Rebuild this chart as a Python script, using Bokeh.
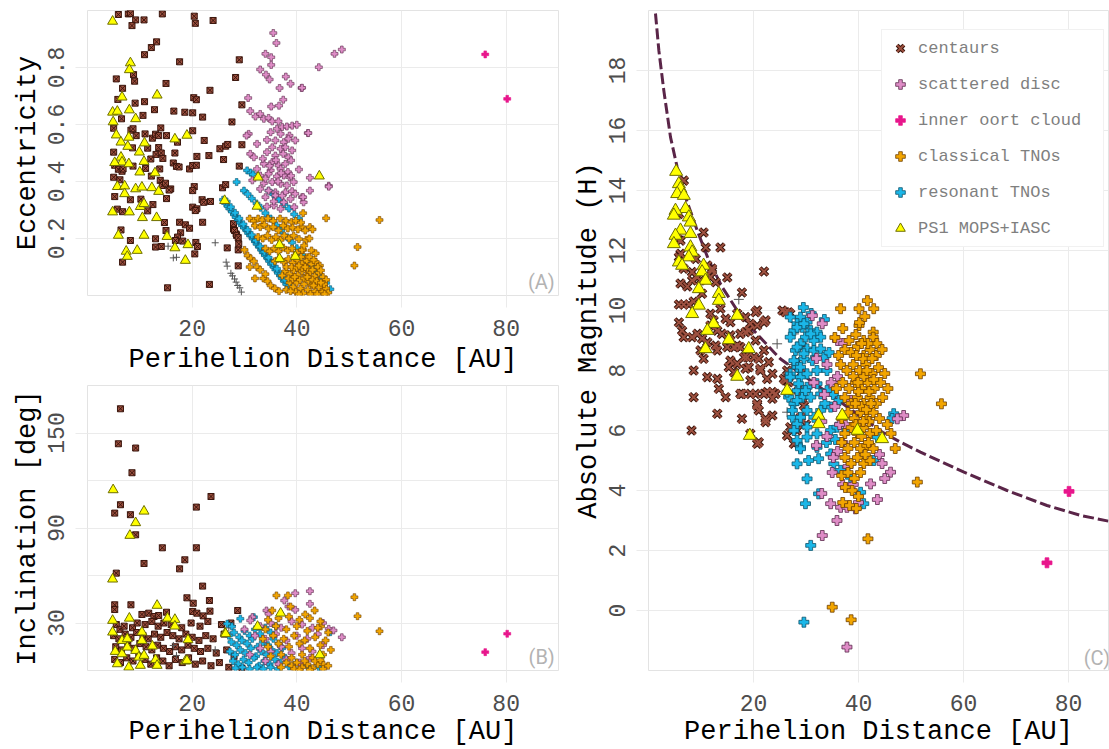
from bokeh.plotting import figure
from bokeh.layouts import row, column
from bokeh.models import Range1d, FixedTicker, Label, Legend, LegendItem
from bokeh.embed import file_html
from bokeh.resources import INLINE

FONT = "Liberation Mono"
GRID = "#EBEBEB"

# ---------------- data: panel A (perihelion q [AU], eccentricity e) ----------------
cen_a = [(5.9,0.986),(7.8,0.988),(8.2,0.99),(9.2,0.967),(8.5,0.947),(10.8,0.967),(14.3,0.988),(20.4,0.98),(20.6,0.955),(24.0,0.965),
(13.2,0.89),(12.2,0.87),(10.9,0.845),(17.6,0.82),(29.0,0.827),(28.3,0.765),(5.5,0.76),(9.0,0.752),(8.8,0.775),(15.0,0.744),
(6.7,0.727),(23.4,0.72),(5.8,0.688),(10.9,0.68),(9.1,0.675),(20.3,0.694),(20.8,0.687),(29.5,0.669),(12.8,0.652),(16.5,0.647),
(18.6,0.643),(20.1,0.641),(22.0,0.626),(6.5,0.62),(10.6,0.632),(27.6,0.609),(5.0,0.587),(8.3,0.58),(8.7,0.585),(14.0,0.588),
(20.1,0.578),(9.3,0.561),(11.0,0.567),(12.4,0.552),(13.0,0.566),(13.6,0.561),(15.1,0.561),(17.2,0.538),(22.3,0.544),(25.3,0.515),
(26.4,0.524),(26.8,0.53),(29.5,0.529),(5.0,0.503),(8.6,0.518),(11.5,0.517),(13.6,0.519),(12.1,0.479),(13.1,0.495),(14.1,0.5),
(16.7,0.5),(14.4,0.481),(20.9,0.488),(23.2,0.491),(26.0,0.477),(5.2,0.457),(5.9,0.443),(6.6,0.436),(6.8,0.444),(8.7,0.454),
(11.1,0.446),(16.4,0.465),(17.0,0.453),(17.5,0.451),(13.8,0.444),(19.5,0.444),(20.1,0.456),(20.8,0.457),(29.0,0.454),(5.0,0.415),
(6.2,0.406),(12.2,0.419),(13.9,0.404),(14.3,0.386),(14.9,0.394),(15.9,0.374),(15.6,0.37),(20.4,0.382),(20.1,0.368),(25.8,0.378),
(26.4,0.389),(5.2,0.347),(8.2,0.336),(10.2,0.338),(15.1,0.34),(12.5,0.319),(21.9,0.336),(22.2,0.327),(23.5,0.33),(20.1,0.31),
(20.9,0.304),(20.6,0.298),(5.7,0.303),(6.7,0.294),(11.5,0.297),(14.7,0.256),(22.0,0.257),(17.6,0.257),(18.7,0.248),(19.5,0.236),
(27.9,0.233),(28.4,0.216),(6.4,0.23),(15.0,0.228),(17.8,0.22),(17.2,0.205),(16.8,0.193),(18.2,0.191),(20.7,0.186),(21.0,0.172),
(8.2,0.193),(13.0,0.199),(13.0,0.17),(14.1,0.172),(26.7,0.167),(28.8,0.16),(28.9,0.181),(20.5,0.146),(6.7,0.117),(28.8,0.104),
(15.3,0.027),(23.3,0.039),(27.9,0.252),(28.1,0.228),(28.5,0.211),(28.8,0.203)]

oth_a = [(24.4,0.185),(15.4,0.173),(16.4,0.132),(17.0,0.134),(26.5,0.117),(26.7,0.103),(27.4,0.078),(27.7,0.069),(28.1,0.058),
(28.4,0.047),(28.7,0.035),(29.1,0.027),(29.4,0.012)]

sd_a = [(35.5,0.921),(36.1,0.886),(34.0,0.848),(35.1,0.836),(35.1,0.809),(33.0,0.793),(34.1,0.775),(34.8,0.758),(37.9,0.768),(38.8,0.743),
(40.9,0.728),(36.7,0.728),(30.7,0.693),(37.4,0.687),(31.1,0.647),(35.1,0.663),(36.6,0.666),(32.1,0.628),(33.0,0.637),(33.7,0.62),
(34.6,0.623),(35.3,0.611),(36.5,0.611),(36.2,0.585),(37.2,0.591),(38.1,0.593),(39.1,0.596),(40.0,0.599),(35.0,0.573),(36.9,0.567),
(38.6,0.561),(30.8,0.567),(30.4,0.561),(42.1,0.57),(34.3,0.546),(35.9,0.544),(37.5,0.538),(38.4,0.55),(39.7,0.544),(32.4,0.532),
(35.3,0.52),(36.9,0.515),(37.8,0.52),(31.1,0.497),(31.8,0.485),(34.3,0.503),(35.9,0.491),(37.4,0.497),(38.4,0.485),(39.1,0.509),
(33.7,0.462),(35.3,0.468),(36.5,0.456),(37.8,0.462),(38.9,0.474),(32.4,0.444),(35.0,0.439),(36.9,0.444),(38.3,0.433),(40.4,0.442),
(33.0,0.421),(34.6,0.427),(36.2,0.418),(37.5,0.421),(38.6,0.415),(42.5,0.413),(31.5,0.404),(33.7,0.394),(35.3,0.398),(36.9,0.392),
(38.1,0.386),(39.4,0.398),(33.0,0.374),(34.6,0.368),(35.9,0.362),(37.8,0.362),(39.1,0.366),(39.7,0.357),(42.5,0.368),(46.1,0.385),
(34.0,0.345),(35.9,0.351),(37.5,0.327),(38.8,0.339),(41.0,0.345),(41.3,0.327),(34.3,0.312),(35.6,0.316),(36.9,0.304),
(47.2,0.848),(48.6,0.863),(44.2,0.801),(41.0,0.729),(42.2,0.57),(46.1,0.382),(41.2,0.345),
(33.5,0.48),(34.8,0.455),(36.0,0.475),(37.0,0.43),(34.0,0.41),(36.4,0.40),(38.9,0.42),(35.6,0.33),(37.2,0.35),(39.5,0.31)]

ioc_a = [(76.0,0.846),(80.2,0.69)]

res_a = [(25.9,0.336),(26.3,0.324),(26.8,0.313),(27.1,0.305),(27.6,0.294),(28.0,0.284),(28.3,0.275),(28.8,0.266),(29.2,0.255),(29.5,0.246),
(29.9,0.238),(30.4,0.228),(30.7,0.219),(31.1,0.21),(31.6,0.199),(32.0,0.19),(32.3,0.181),(32.8,0.17),(33.2,0.16),(33.5,0.151),
(33.9,0.141),(34.4,0.13),(34.7,0.121),(35.1,0.11),(35.6,0.1),(35.9,0.091),(36.4,0.079),(36.8,0.07),(37.1,0.061),(37.6,0.05),
(38.0,0.04),(38.4,0.028),(26.6,0.33),(27.4,0.31),(28.2,0.29),(29.0,0.27),(29.8,0.25),(30.6,0.23),(31.4,0.212),(32.2,0.193),
(33.0,0.172),(33.8,0.153),(34.6,0.133),(35.4,0.114),(36.2,0.094),(37.0,0.075),(37.8,0.055),(38.6,0.036),
(28.5,0.398),(29.9,0.368),(30.6,0.356),(31.4,0.34),(32.3,0.323),(33.1,0.308),(34.0,0.289),(35.0,0.27),(36.1,0.246),(37.0,0.228),
(38.2,0.204),(39.1,0.186),(40.0,0.166),(41.0,0.142),(42.0,0.121),(43.0,0.1),(43.9,0.081),(44.8,0.062),(45.6,0.044),(46.4,0.022),
(30.5,0.439),(31.2,0.431),(31.6,0.425),(34.6,0.368),(35.5,0.355),(36.6,0.338),(37.6,0.321),(38.5,0.305),(39.5,0.285),(40.4,0.269)]

cl_a = [(41.2,0.289),(45.6,0.271),(55.8,0.265),(41.0,0.24),(42.5,0.24),(41.6,0.228),(41.8,0.195),(51.6,0.17),(51.0,0.105),
(41.2,0.16),(41.9,0.134),(43.5,0.058),(44.2,0.041),(44.8,0.02),
(31.0,0.27),(31.8,0.262),(32.6,0.27),(33.4,0.265),(34.5,0.27),(35.5,0.262),(36.8,0.27),(37.9,0.262),(39.0,0.258),(39.8,0.262),(40.8,0.256),
(32.0,0.245),(33.0,0.24),(33.8,0.248),(34.6,0.235),(35.5,0.24),(36.5,0.228),(37.4,0.245),(38.3,0.235),(39.2,0.238),(40.2,0.232),(43.0,0.232),
(32.6,0.205),(33.5,0.2),(34.4,0.21),(35.2,0.195),(36.0,0.205),(36.9,0.195),(37.6,0.21),(38.5,0.2),(39.4,0.21),(40.4,0.198),(42.4,0.2),
(34.0,0.165),(34.8,0.155),(35.7,0.165),(36.5,0.155),(37.4,0.168),(38.3,0.158),(39.1,0.165),(40.0,0.15),(41.0,0.16),(42.8,0.158),(43.6,0.148),
(35.8,0.12),(36.6,0.13),(37.5,0.118),(38.4,0.128),(39.2,0.115),(40.1,0.125),(41.0,0.112),(41.9,0.122),(42.8,0.11),(43.6,0.118),(44.4,0.105),
(37.8,0.085),(38.6,0.075),(39.4,0.088),(40.2,0.072),(41.0,0.085),(41.8,0.07),(42.6,0.082),(43.4,0.068),(44.2,0.08),(45.0,0.065),(45.6,0.055),
(38.6,0.045),(39.3,0.03),(40.0,0.045),(40.7,0.025),(41.4,0.04),(42.1,0.02),(42.8,0.038),(43.5,0.015),(44.2,0.03),(44.9,0.012),(45.6,0.025),
(46.0,0.01),(39.8,0.012),(41.2,0.008),(42.6,0.005),
(30.0,0.16),(30.6,0.14),(31.2,0.13),(31.8,0.12),(32.4,0.1),(33.0,0.09),(32.0,0.06),(33.6,0.06),(34.4,0.05),(35.0,0.035),(35.8,0.025),
(36.6,0.015),(34.0,0.075),(31.0,0.1),
(38.0,0.1),(39.0,0.1),(40.0,0.098),(41.0,0.096),(42.0,0.095),(43.0,0.09),(38.4,0.06),(39.2,0.058),(40.6,0.055),(41.4,0.06),(42.2,0.052),
(43.0,0.055),(43.8,0.05),(37.2,0.07),(38.0,0.02),(38.8,0.015),(39.6,0.065),(40.4,0.105),(41.6,0.1),(42.4,0.135),(43.2,0.125),(44.0,0.1),
(44.6,0.088),(45.2,0.04),(39.6,0.14),(40.8,0.135),(41.4,0.175),(42.0,0.065),(43.2,0.035),(44.6,0.045),(40.4,0.005),(43.9,0.005),(45.3,0.005)]

ps1_a = [(4.8,0.962),(8.2,0.816),(8.0,0.792),(6.6,0.696),(13.3,0.703),(4.8,0.643),(5.7,0.646),(8.0,0.651),(9.2,0.62),(4.9,0.609),
(5.5,0.563),(6.4,0.538),(7.9,0.555),(7.7,0.523),(10.9,0.535),(16.7,0.549),(19.0,0.562),(9.9,0.503),(6.4,0.485),(6.6,0.468),
(5.2,0.466),(7.9,0.462),(10.8,0.47),(10.0,0.433),(12.9,0.43),(5.7,0.382),(7.1,0.384),(7.1,0.357),(9.2,0.374),(10.4,0.38),
(12.3,0.378),(13.6,0.365),(4.8,0.293),(8.0,0.293),(10.1,0.312),(10.8,0.322),(10.5,0.273),(13.2,0.273),(5.9,0.211),(10.8,0.211),
(15.2,0.207),(7.4,0.155),(7.6,0.137),(9.5,0.158),(16.7,0.167),(19.2,0.178),(18.7,0.123),(26.2,0.333),(32.4,0.313),(32.6,0.415),
(44.3,0.419),(36.7,0.178),(36.7,0.129),(39.7,0.137)]

# ---------------- data: panel B (perihelion q [AU], inclination i [deg]) ----------------
cen_b = [(6.3,165.3),(5.9,143.2),(9.2,140.5),(8.5,124.9),(6.3,104.7),(5.2,99.4),(8.2,98.4),(9.2,85.7),(23.6,109.9),(20.8,103.2),
(14.3,77.5),(20.8,77.5),(18.6,69.9),(17.6,64.2),(10.8,67.6),(5.5,61.5),(22.0,53.3),(19.0,45.9),(20.2,42.5),(23.3,44.2),(5.2,41.5),
(5.2,38.5),(8.3,41.5),(20.1,37.3),(20.9,36.2),(22.1,34.5),(23.4,37.5),(28.7,37.9),(10.4,35.4),(11.7,36.2),(12.7,34.1),(13.6,34.7),(15.1,36.8),
(5.5,29),(6.2,26),(7.0,28),(8.6,27),(9.5,30),(11.0,29),(12.3,31),(13.5,28),(14.6,30),(16.0,29),(18.0,27),(19.8,30),(21.5,28),(23.0,31),(25.6,29),(27.4,30),
(5.0,22),(6.0,20),(7.2,23),(8.3,21),(9.4,24),(10.6,22),(11.6,20),(12.8,23),(14.0,21),(15.2,24),(16.3,22),(17.5,20),(18.8,23),(20.0,21),(21.3,19),(22.6,22),(24.0,20),(26.1,23),
(5.4,15),(6.5,13),(7.7,16),(8.9,14),(10.0,17),(11.2,15),(12.3,13),(13.4,16),(14.5,14),(15.7,12),(16.8,15),(18.0,13),(19.2,16),(20.4,14),(21.6,12),(23.0,14),(24.6,11),(26.6,13),(28.0,9),
(5.2,7),(6.3,5),(7.5,8),(8.7,6),(9.8,9),(11.0,7),(12.1,4),(13.2,8),(14.4,6),(15.6,3),(16.8,7),(18.1,5),(19.3,8),(20.6,4),(22.0,6),(23.6,3),(25.2,5),(27.0,2),(29.5,1.5)]

oth_b = [(27.7,28.4),(27.0,26.9),(24.4,13.1),(16.4,15.8),(17.0,9.5)]

sd_b = [(39.7,48.8),(42.5,50.1),(37.6,44.2),(38.4,40.4),(39.7,38.3),(42.5,42.1),(34.2,37.9),(34.6,35.8),(31.5,33.7),(31.1,31.6),(46.1,26.3),
(47.0,25.3),(48.6,21.0),(33.0,28),(35.0,30),(37.0,27),(39.0,31),(41.0,29),(43.0,27),(45.0,30),(32.0,22),(34.0,20),(36.0,23),(38.0,19),
(40.0,22),(42.0,20),(44.0,23),(33.0,14),(35.0,12),(37.0,15),(39.0,11),(41.0,14),(43.0,12),(45.0,16),(34.0,6),(36.5,4),(38.0,7),(40.5,5),
(42.5,8),(31.0,10),(30.0,26)]

ioc_b = [(80.2,23.2),(76.0,11.6)]

res_b = [(26.7,29.5),(27.6,27.8),(29.2,32.7),(31.8,33.7),(46.4,24.2),
(27.0,22),(28.0,24),(29.0,21),(30.0,25),(31.0,22),(32.0,26),(33.0,23),(34.0,27),(35.0,24),(36.0,28),
(27.5,18),(28.5,16),(29.5,19),(30.5,17),(31.5,20),(32.5,15),(33.5,18),(34.5,16),(35.5,20),(36.5,17),
(27.2,12),(28.2,10),(29.2,13),(30.2,11),(31.2,14),(32.2,9),(33.2,12),(34.2,10),(35.2,13),(36.2,11),(37.2,14),
(27.8,6),(28.8,4),(29.8,7),(30.8,5),(31.8,8),(32.8,3),(33.8,6),(34.8,4),(35.8,7),(36.8,5),(37.8,8),
(28.3,1.5),(29.6,2),(31.0,1),(32.4,2),(33.6,1),(35.0,2),(36.4,1),(38.5,2.5),(40.0,5),(42.0,3),(44.2,2)]

cl_b = [(36.1,47.4),(38.3,47.4),(38.8,40.4),(43.4,37.9),(41.6,35.4),(51.0,46.3),(51.6,34.3),(55.8,24.8),(35.3,37.9),(44.6,27.8),(45.1,3.8),
(34.5,32),(36.5,33),(38.5,34),(40.5,32),(42.5,33),(44.5,31),
(34.0,26),(36.0,28),(38.0,26),(40.0,28),(42.0,25),(44.0,27),(46.0,24),
(33.5,20),(35.5,22),(37.5,20),(39.5,22),(41.5,19),(43.5,21),(45.5,19),
(34.5,15),(36.5,17),(38.5,15),(40.5,17),(42.5,14),(44.5,16),(46.5,13),
(35.0,9),(37.0,10),(39.0,8),(41.0,10),(43.0,8),(45.0,10),
(38.0,5),(39.0,3),(40.0,5),(41.0,2),(42.0,4),(43.0,1.5),(44.0,4),(45.0,1),(46.0,3),(39.5,1),(41.5,6),(43.5,6),(37.0,2),(44.5,6.5),(40.5,0.5),(42.5,0.5)]

ps1_b = [(4.9,114.1),(10.8,100.6),(9.2,93.3),(8.1,85.3),(4.8,57.7),(13.3,41.1),(4.8,31.6),(8.0,33.0),(15.3,33.0),(16.7,32.2),(16.7,28.0),
(4.8,24.2),(6.6,18.9),(7.6,20.0),(10.4,24.2),(10.4,18.9),(12.4,15.4),(19.2,19.4),(26.3,23.6),(5.3,12.0),(6.6,10.5),(7.6,14.7),(9.2,12.6),
(9.8,8.4),(10.8,9.5),(5.7,4.2),(7.9,2.1),(10.1,3.2),(13.0,6.8),(13.3,3.2),(18.7,5.9),(19.0,6.3),(36.9,36.2),(32.5,27.8),(26.4,23.2),(44.4,9.9)]

# ---------------- data: panel C (perihelion q [AU], absolute magnitude H) ----------------
cen_c = [(6.73,14.33),(10.5,12.6),(13.7,12.1),(22.0,11.3),(10.9,12.1),(12.1,11.4),(15.0,11.1),(17.8,10.6),(6.1,10.9),(7.4,10.8),(8.3,11.0),
(5.8,10.2),(6.7,10.2),(7.7,10.2),(8.6,10.3),(5.8,9.6),(6.4,9.33),(6.7,9.11),(8.3,9.11),(9.9,8.67),(10.5,8.39),(8.6,8.0),(11.2,7.78),
(13.1,7.72),(13.4,7.39),(14.7,7.11),(8.6,7.11),(13.1,6.56),(8.2,6.0),(17.8,6.39),(20.4,7.22),(22.6,7.28),(20.7,6.83),(21.0,6.67),
(23.6,6.5),(22.3,6.28),(20.7,5.56),(17.8,7.22),(19.4,7.67),(18.5,8.06),(21.3,8.06),(18.8,8.44),(20.1,8.44),(21.0,8.39),(15.6,8.33),
(16.9,8.22),(15.3,8.11),(16.3,7.94),(13.1,8.67),(15.0,8.78),(16.3,8.78),(17.5,8.78),(11.2,8.94),(12.8,8.83),(9.3,9.22),(10.2,9.06),
(11.8,9.5),(13.1,9.33),(14.0,9.22),(15.6,9.17),(17.5,9.22),(19.1,9.33),(20.7,9.5),(22.0,9.61),(18.5,9.78),(20.4,9.94),(22.3,9.67),
(11.8,9.89),(13.7,10.06),(12.4,9.67),(14.7,9.72),(15.6,9.61),(6.7,11.39),(8.3,11.28),(9.3,11.11),(5.8,11.78),(6.1,11.89),(8.3,11.83),
(9.0,11.72),(5.5,12.39),(6.1,12.33),(5.8,13.22),(11.8,11.11),(12.8,10.94),(11.2,11.5),(12.1,11.33),(9.9,11.0),(10.2,10.56),(26.4,8.0),
(26.1,7.67),(26.7,7.61),(27.0,6.11),(26.4,5.83),(25.5,10.0),(26.7,9.94),(23.6,7.06),(24.2,7.22),(26.1,9.94),(27.0,9.89),(16.9,9.89),
(20.7,10.0),(19.4,9.56),(18.5,9.28),(20.4,9.0),(22.0,8.67),(22.9,8.28),(16.9,8.83),(18.2,8.44),(19.1,8.11),(21.3,8.0),(22.6,7.72),
(23.6,7.89),(25.8,7.72),(17.5,7.22),(19.4,7.22),(20.7,6.89),(22.0,7.22),(23.6,7.28),(22.3,6.39),(19.4,5.89),(21.0,5.61),(27.7,5.56),
(29.0,6.44),(28.3,6.0),(28.6,7.33),(29.3,7.11),(29.6,6.83),(28.3,8.3),(29.0,7.9),(29.2,8.8),(30.0,6.2)]

oth_c = [(17.2,10.37),(24.5,8.89),(27.7,9.22),(26.4,6.61),(27.2,8.2),(28.0,9.6)]

sd_c = [(31.2,9.83),(33.1,9.56),(46.1,4.61),(48.6,6.5),(47.4,6.39),(42.3,4.22),(35.9,3.0),(33.1,2.5),(37.8,-1.22),(34.7,3.56),(36.6,3.44),
(37.8,3.44),(39.4,3.39),(32.0,8.4),(34.0,8.2),(36.0,7.8),(33.5,7.2),(35.5,6.8),(37.5,6.2),(34.0,5.8),(36.0,5.3),(38.0,4.8),(35.0,4.6),
(37.0,4.2),(39.0,4.2),(40.0,3.6),(33.0,6.3),(32.0,5.5),(38.5,7.0),(44.0,5.2),(45.0,4.4),(43.6,3.7),(44.5,4.9),(33.0,3.9),(36.0,9.0),
(31.5,7.6),(37.2,8.9),(34.8,7.6),(36.4,6.2),(35.2,5.1),(37.0,5.6)]

ioc_c = [(80.1,3.97),(75.9,1.59)]

res_c = [(28.95,9.78),(28.3,9.56),(27.7,9.33),(29.3,9.44),(30.2,9.61),(30.9,9.33),(32.1,9.28),(32.8,9.11),(31.5,9.0),(29.9,9.11),
(28.95,8.89),(28.0,8.67),(30.2,8.72),(31.5,8.67),(32.8,8.72),(33.4,8.44),(31.2,8.33),(29.6,8.39),(28.3,8.11),(27.0,7.89),
(28.95,7.78),(30.2,7.89),(32.1,8.0),(34.0,8.0),(30.2,7.44),(32.1,7.56),(28.3,7.33),(26.7,7.11),(27.7,6.89),(29.3,7.11),
(30.9,7.11),(32.8,7.22),(34.0,7.33),(30.2,6.67),(31.5,6.44),(32.8,6.67),(34.7,6.78),(27.4,6.44),(28.3,6.22),(30.2,6.11),
(32.1,5.89),(34.7,6.0),(35.9,6.11),(37.8,6.0),(28.95,5.44),(30.2,5.78),(32.1,5.44),(34.7,5.22),(28.3,4.89),(30.5,5.0),
(32.4,5.06),(30.2,4.39),(32.4,3.89),(29.9,3.56),(30.9,2.17),(35.3,4.89),(36.6,4.67),(38.5,4.44),(41.0,3.56),(40.4,3.94),
(43.6,5.78),(46.7,6.56),(46.4,6.4),(42.9,5.0),(29.6,-0.39),
(27.0,9.78),(28.3,9.44),(29.6,9.56),(30.9,9.22),(27.0,9.11),(28.3,8.78),(29.6,8.56),(27.7,8.33),(28.95,8.11),(27.0,7.78),
(28.6,7.56),(29.9,7.33),(28.3,7.0),(27.4,6.67),(28.95,6.44),(27.7,6.0),(28.3,5.67),(28.95,5.39),(26.4,7.28),
(33.5,9.7),(31.0,9.9),(29.5,10.1),(33.6,6.9),(34.4,8.6),(35.2,7.2),(33.9,5.6),(35.6,5.7),(36.3,7.0)]

cl_c = [(36.6,10.06),(40.1,10.06),(41.7,10.33),(42.9,10.06),(40.1,9.5),(42.8,9.28),(42.8,9.11),(51.8,7.89),(51.2,4.28),(41.8,2.39),
(35.0,0.11),(38.6,-0.31),(55.8,6.89),(45.5,6.2),(46.2,5.9),(47.0,5.4),
(35.5,9.1),(37.0,9.4),(38.2,9.0),(39.5,9.2),(41.0,9.0),(43.5,8.9),
(36.2,8.5),(37.4,8.7),(38.6,8.6),(39.8,8.8),(41.0,8.5),(42.2,8.7),(43.4,8.5),(44.5,8.7),
(36.6,8.2),(37.8,8.0),(39.0,8.2),(40.2,8.0),(41.4,8.2),(42.6,7.9),(43.8,8.1),(45.0,7.9),
(35.8,7.4),(37.0,7.6),(38.2,7.4),(39.4,7.6),(40.6,7.4),(41.8,7.6),(43.0,7.4),(44.2,7.6),(45.6,7.4),
(37.4,7.1),(38.6,6.9),(39.8,7.1),(41.0,6.9),(42.2,7.1),(43.4,6.9),(44.6,7.1),
(36.8,6.4),(38.0,6.6),(39.2,6.4),(40.4,6.6),(41.6,6.4),(42.8,6.6),(44.0,6.4),
(37.4,5.9),(38.6,6.1),(39.8,5.9),(41.0,6.1),(42.2,5.9),(43.4,6.0),
(36.8,5.6),(38.0,5.4),(39.2,5.6),(40.4,5.4),(41.6,5.5),(42.8,5.4),
(37.4,5.1),(38.6,4.9),(39.8,5.1),(41.0,4.9),(42.2,5.0),
(36.8,4.5),(38.0,4.6),(39.2,4.4),(40.4,4.6),(37.5,4.1),(38.8,4.0),(40.0,3.8),(37.0,3.6),(38.3,3.5),(39.6,3.4),
(39.0,7.8),(40.0,7.3),(41.0,7.8),(42.0,7.3),(40.5,6.8),(41.5,6.7),(39.5,6.2),(42.0,6.3),(40.8,8.4),(41.8,8.9),(40.2,9.6),(41.2,9.8),
(40.6,5.8),(41.3,5.2),(39.6,8.5),(40.6,8.9),(41.6,8.0),(42.6,8.4),(39.4,6.9),(40.9,6.3),(42.4,6.9),(41.9,5.6),(39.9,7.6),(42.9,7.7)]

ps1_c = [(5.27,14.63),(5.78,14.22),(6.1,14.06),(5.46,13.89),(6.73,13.83),(7.05,13.39),(5.14,13.33),(4.83,13.17),(7.68,13.11),(8.0,12.94),
(6.1,12.67),(5.14,12.5),(4.83,12.22),(8.0,12.56),(8.0,12.11),(8.32,11.94),(7.68,11.78),(5.78,11.61),(6.4,11.5),(10.5,11.5),(10.2,11.28),
(10.86,11.0),(9.59,10.72),(13.4,10.56),(13.4,10.33),(9.59,10.17),(8.32,9.89),(16.9,9.83),(12.4,9.56),(11.2,9.33),(10.86,8.72),(15.3,9.02),
(19.1,8.72),(16.9,7.8),(26.4,7.33),(19.3,5.83),(32.4,6.5),(32.4,6.22),(36.9,6.5),(39.8,6.0),(44.5,5.72)]

# detection-limit curve (q, H)
lim_q = [1.33,1.97,2.92,4.19,5.46,7.05,9.27,11.49,14.03,16.9,20.06,23.9,25.1,44.5,48.0,51.8,60.1,68.3,75.9,82.3,87.6]
lim_h = [19.9,18.67,17.33,15.78,14.78,13.78,12.67,11.67,10.78,10.0,9.33,8.61,8.39,5.95,5.61,5.28,4.61,4.0,3.5,3.17,2.98]

x_ticks = [20, 40, 60, 80]
e_ticks = [0.2, 0.4, 0.6, 0.8]
i_ticks = [30, 90, 150]
i_minor = [60, 120]
h_ticks = [0, 2, 4, 6, 8, 10, 12, 14, 16, 18]

legend_labels = ["centaurs", "scattered disc", "inner oort cloud", "classical TNOs", "resonant TNOs", "PS1 MOPS+IASC"]

# ---------------- colours ----------------
C_CEN, C_CEN_D = "#9E5140", "#3A150C"
C_SD, C_SD_D = "#DE8CC6", "#5C2A4C"
C_IOC = "#E8168C"
C_CL, C_CL_D = "#F2A500", "#6E3F00"
C_RES, C_RES_D = "#1BB7E8", "#0E5369"
C_PS1, C_PS1_D = "#FFFF00", "#6E6E00"
C_OTH = "#555555"


def xs(d):
    return [t[0] for t in d]


def ys(d):
    return [t[1] for t in d]


def make_fig(w, h, xr, yr, left, right, top, bottom, title_standoff=6):
    p = figure(width=w, height=h, x_range=Range1d(*xr), y_range=Range1d(*yr),
               output_backend="svg", toolbar_location=None,
               min_border_left=left, min_border_right=right,
               min_border_top=top, min_border_bottom=bottom)
    p.outline_line_color = "#E3E3E3"
    p.outline_line_width = 1
    p.background_fill_color = "white"
    p.border_fill_color = "white"
    for ax in (p.xaxis[0], p.yaxis[0]):
        ax.axis_line_color = None
        ax.major_tick_line_color = GRID
        ax.major_tick_out = 12
        ax.major_tick_in = 0
        ax.minor_tick_line_color = None
        ax.major_label_text_font = FONT
        ax.major_label_text_font_size = "23px"
        ax.major_label_text_color = "#4D4D4D"
        ax.major_label_standoff = 12
        ax.axis_label_text_font = FONT
        ax.axis_label_text_font_size = "27px"
        ax.axis_label_text_font_style = "normal"
        ax.axis_label_text_color = "black"
    p.xaxis.axis_label_standoff = title_standoff
    p.yaxis.axis_label_standoff = 2
    p.yaxis.major_label_orientation = "parallel"
    p.xgrid.grid_line_color = GRID
    p.ygrid.grid_line_color = GRID
    p.xaxis.ticker = FixedTicker(ticks=x_ticks)
    p.xaxis.axis_label = "Perihelion Distance [AU]"
    return p


def small_panel(p, cen, oth, res, sd, cl, ioc, ps1):
    p.scatter(xs(cen), ys(cen), marker="square_x", size=6, fill_color=C_CEN, line_color=C_CEN_D, line_width=1)
    p.scatter(xs(oth), ys(oth), marker="cross", size=7, line_color=C_OTH, line_width=1)
    p.scatter(xs(res), ys(res), marker="plus", size=7, fill_color=C_RES, line_color=C_RES_D, line_width=0.6)
    p.scatter(xs(sd), ys(sd), marker="plus", size=7, fill_color=C_SD, line_color=C_SD_D, line_width=0.6)
    p.scatter(xs(cl), ys(cl), marker="plus", size=7, fill_color=C_CL, line_color=C_CL_D, line_width=0.6)
    p.scatter(xs(ioc), ys(ioc), marker="plus", size=7, fill_color=C_IOC, line_color=C_IOC, line_width=0.6)
    p.scatter(xs(ps1), ys(ps1), marker="triangle", size=10, fill_color=C_PS1, line_color=C_PS1_D, line_width=1)


# ---------------- panel A ----------------
pA = make_fig(560, 380, (0, 90), (0, 1), 87, 2, 10, 85)
pA.yaxis.ticker = FixedTicker(ticks=e_ticks)
pA.yaxis.axis_label = "Eccentricity"
small_panel(pA, cen_a, oth_a, res_a, sd_a, cl_a, ioc_a, ps1_a)
pA.add_layout(Label(x=89.3, y=0.004, text="(A)", text_align="right", text_baseline="bottom",
                    text_font="Roboto", text_font_size="20px", text_color="#B3B3B3"))

# ---------------- panel B ----------------
pB = make_fig(560, 369, (0, 90), (0, 180), 87, 2, 5, 79, title_standoff=3)
pB.yaxis.ticker = FixedTicker(ticks=i_ticks, minor_ticks=i_minor)
pB.ygrid.minor_grid_line_color = GRID
pB.yaxis.axis_label = "Inclination [deg]"
small_panel(pB, cen_b, oth_b, res_b, sd_b, cl_b, ioc_b, ps1_b)
pB.add_layout(Label(x=89.3, y=0.8, text="(B)", text_align="right", text_baseline="bottom",
                    text_font="Roboto", text_font_size="20px", text_color="#B3B3B3"))

# ---------------- panel C ----------------
pC = make_fig(549, 749, (0, 87.62), (-2, 20), 88, 1, 10, 79, title_standoff=3)
pC.yaxis.ticker = FixedTicker(ticks=h_ticks)
pC.yaxis.axis_label = "Absolute Magnitude (H)"
pC.line(lim_q, lim_h, line_color="#5A2548", line_width=3, line_dash="11 4")
rc1 = pC.scatter(xs(cen_c), ys(cen_c), marker="x", size=11, line_color=C_CEN_D, line_width=4)
rc2 = pC.scatter(xs(cen_c), ys(cen_c), marker="x", size=11, line_color=C_CEN, line_width=2)
ro = pC.scatter(xs(oth_c), ys(oth_c), marker="cross", size=10, line_color=C_OTH, line_width=1)
rr = pC.scatter(xs(res_c), ys(res_c), marker="plus", size=10, fill_color=C_RES, line_color=C_RES_D, line_width=0.8)
rs = pC.scatter(xs(sd_c), ys(sd_c), marker="plus", size=10, fill_color=C_SD, line_color=C_SD_D, line_width=0.8)
rcl = pC.scatter(xs(cl_c), ys(cl_c), marker="plus", size=10, fill_color=C_CL, line_color=C_CL_D, line_width=0.8)
ri = pC.scatter(xs(ioc_c), ys(ioc_c), marker="plus", size=10, fill_color=C_IOC, line_color=C_IOC, line_width=0.8)
rp = pC.scatter(xs(ps1_c), ys(ps1_c), marker="triangle", size=13, fill_color=C_PS1, line_color=C_PS1_D, line_width=1)
pC.add_layout(Label(x=82.9, y=-1.97, text="(C)", text_align="left", text_baseline="bottom",
                    text_font="Roboto", text_font_size="20px", text_color="#B3B3B3"))

legend = Legend(items=[LegendItem(label=legend_labels[0], renderers=[rc1, rc2]),
                       LegendItem(label=legend_labels[1], renderers=[rs]),
                       LegendItem(label=legend_labels[2], renderers=[ri]),
                       LegendItem(label=legend_labels[3], renderers=[rcl]),
                       LegendItem(label=legend_labels[4], renderers=[rr]),
                       LegendItem(label=legend_labels[5], renderers=[rp])],
                location=(233, 423))
legend.label_text_font = FONT
legend.label_text_font_size = "17px"
legend.label_text_color = "#7F7F7F"
legend.glyph_width = 24
legend.glyph_height = 24
legend.label_height = 24
legend.label_width = 179
legend.label_standoff = 6
legend.spacing = 12
legend.padding = 6
legend.margin = 0
legend.border_line_color = "#E3E3E3"
legend.border_line_width = 1
legend.background_fill_color = "white"
legend.background_fill_alpha = 1
pC.add_layout(legend)

layout = row(column(pA, pB), pC)
open("out.html", "w").write(file_html(layout, INLINE))
